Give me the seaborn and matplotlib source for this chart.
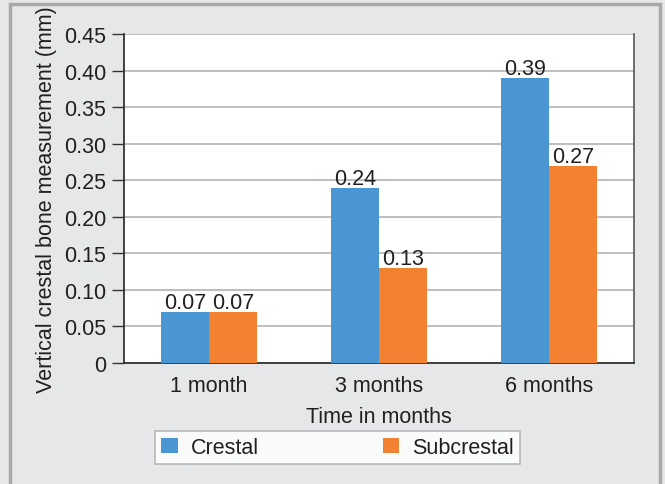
import numpy as np
import pandas as pd
import matplotlib
matplotlib.use('Agg')
import matplotlib.pyplot as plt
import seaborn as sns
from matplotlib.patches import Rectangle

# data
months = ['1 month', '3 months', '6 months']
crestal = [0.07, 0.24, 0.39]
subcrestal = [0.07, 0.13, 0.27]

df = pd.DataFrame({
    'Time': months * 2,
    'value': crestal + subcrestal,
    'group': ['Crestal'] * 3 + ['Subcrestal'] * 3,
})

sns.set_style('white')
plt.rcParams['font.family'] = ['Liberation Sans', 'DejaVu Sans']

bg = '#e6e7e9'
fs = 15.5
fig = plt.figure(figsize=(6.65, 4.85), dpi=100, facecolor=bg)
# outer frame
fig.patches.append(Rectangle((10 / 665, -0.01), 650 / 665, 1 - 5 / 485 + 0.01,
                             transform=fig.transFigure, fill=False,
                             edgecolor='#a7a9ac', lw=2.5))
ax = fig.add_axes([124 / 665, 1 - 364 / 485, 510 / 665, 329 / 485])
ax.set_facecolor('white')

sns.barplot(data=df, x='Time', y='value', hue='group',
            palette=['#4a96d2', '#f28131'], width=0.565, gap=0,
            saturation=1, ax=ax, legend=True, zorder=3, linewidth=0)

for cont in ax.containers:
    ax.bar_label(cont, labels=[f'{v:.2f}' for v in cont.datavalues],
                 fontsize=fs, color='#231f20', padding=-1)

ax.set_ylim(0, 0.45)
yt = np.arange(0, 0.451, 0.05)
ax.set_yticks(yt)
ax.set_yticklabels(['0'] + [f'{v:.2f}' for v in yt[1:]])
ax.yaxis.grid(True, color='#b3b3b3', lw=1.2, zorder=0)
ax.set_axisbelow(True)
ax.tick_params(axis='y', direction='out', length=9, width=1, color='#333333',
               labelsize=fs, labelcolor='#231f20', pad=4, left=True)
ax.tick_params(axis='x', length=0, labelsize=fs, labelcolor='#231f20', pad=9)

for s in ['left', 'bottom']:
    ax.spines[s].set_color('#333333')
    ax.spines[s].set_linewidth(1.3)
ax.spines['right'].set_color('#555555')
ax.spines['right'].set_linewidth(1.2)
ax.spines['top'].set_visible(False)

ax.set_xlabel('Time in months', fontsize=fs, color='#231f20', labelpad=7)
ax.set_ylabel('Vertical crestal bone measurement (mm)', fontsize=fs,
              color='#231f20', labelpad=5)

leg = ax.legend(loc='center', bbox_to_anchor=(155 / 665, 1 - 464 / 485, 365 / 665, 31 / 485),
                bbox_transform=fig.transFigure, ncol=2, frameon=True, fancybox=False,
                fontsize=fs, handlelength=0.75, handleheight=0.75, columnspacing=8,
                borderpad=0.3, borderaxespad=0, handletextpad=0.6, mode='expand')
leg.get_frame().set_edgecolor('#a7a9ac')
leg.get_frame().set_linewidth(1.2)
for t in leg.get_texts():
    t.set_color('#231f20')

fig.savefig('out.png', dpi=100, facecolor=bg)
